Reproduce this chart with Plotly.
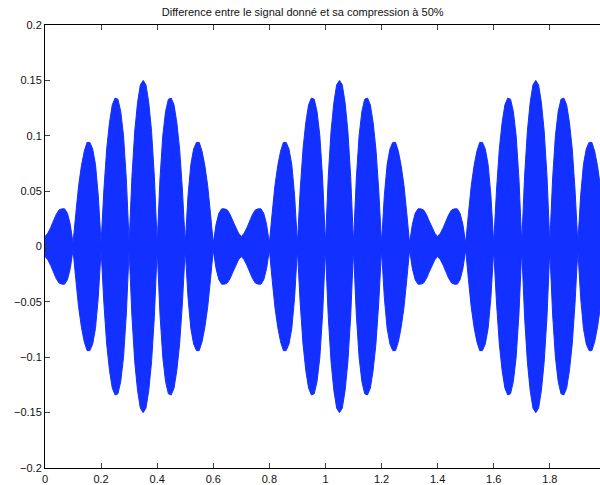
import plotly.graph_objects as go

# Time axis (s), sampled every 0.01 from 0 to 1.98
t = [round(i * 0.01, 2) for i in range(199)]

# Upper envelope of the difference signal
envelope = [
    # 0.00 - 0.69
    0.009, 0.012, 0.017, 0.023, 0.029, 0.033, 0.034, 0.034, 0.030, 0.020,
    0.003, 0.030, 0.055, 0.073, 0.086, 0.094, 0.094, 0.088, 0.074, 0.046,
    0.003, 0.051, 0.088, 0.112, 0.128, 0.134, 0.133, 0.122, 0.100, 0.061,
    0.003, 0.063, 0.104, 0.130, 0.146, 0.150, 0.146, 0.130, 0.104, 0.063,
    0.003, 0.061, 0.100, 0.122, 0.133, 0.134, 0.128, 0.112, 0.088, 0.051,
    0.003, 0.046, 0.074, 0.088, 0.094, 0.094, 0.086, 0.073, 0.055, 0.030,
    0.003, 0.020, 0.030, 0.034, 0.034, 0.033, 0.029, 0.023, 0.017, 0.012,
    # 0.70 - 1.39
    0.009, 0.012, 0.017, 0.023, 0.029, 0.033, 0.034, 0.034, 0.030, 0.020,
    0.003, 0.030, 0.055, 0.073, 0.086, 0.094, 0.094, 0.088, 0.074, 0.046,
    0.003, 0.051, 0.088, 0.112, 0.128, 0.134, 0.133, 0.122, 0.100, 0.061,
    0.003, 0.063, 0.104, 0.130, 0.146, 0.150, 0.146, 0.130, 0.104, 0.063,
    0.003, 0.061, 0.100, 0.122, 0.133, 0.134, 0.128, 0.112, 0.088, 0.051,
    0.003, 0.046, 0.074, 0.088, 0.094, 0.094, 0.086, 0.073, 0.055, 0.030,
    0.003, 0.020, 0.030, 0.034, 0.034, 0.033, 0.029, 0.023, 0.017, 0.012,
    # 1.40 - 1.98
    0.009, 0.012, 0.017, 0.023, 0.029, 0.033, 0.034, 0.034, 0.030, 0.020,
    0.003, 0.030, 0.055, 0.073, 0.086, 0.094, 0.094, 0.088, 0.074, 0.046,
    0.003, 0.051, 0.088, 0.112, 0.128, 0.134, 0.133, 0.122, 0.100, 0.061,
    0.003, 0.063, 0.104, 0.130, 0.146, 0.150, 0.146, 0.130, 0.104, 0.063,
    0.003, 0.061, 0.100, 0.122, 0.133, 0.134, 0.128, 0.112, 0.088, 0.051,
    0.003, 0.046, 0.074, 0.088, 0.094, 0.094, 0.086, 0.073, 0.055,
]

x_tickvals = [0, 0.2, 0.4, 0.6, 0.8, 1.0, 1.2, 1.4, 1.6, 1.8]
x_ticktext = ["0", "0.2", "0.4", "0.6", "0.8", "1", "1.2", "1.4", "1.6", "1.8"]
y_tickvals = [-0.2, -0.15, -0.1, -0.05, 0, 0.05, 0.1, 0.15, 0.2]
y_ticktext = ["\u22120.2", "\u22120.15", "\u22120.1", "\u22120.05", "0", "0.05", "0.1", "0.15", "0.2"]

title_text = "Difference entre le signal donné et sa compression à 50%"

BLUE = "rgb(18,48,255)"
lower = [-v for v in envelope]

fig = go.Figure()
fig.add_trace(go.Scatter(x=t, y=envelope, mode="lines",
                         line=dict(color=BLUE, width=1), hoverinfo="skip", showlegend=False))
fig.add_trace(go.Scatter(x=t, y=lower, mode="lines", fill="tonexty", fillcolor=BLUE,
                         line=dict(color=BLUE, width=1), hoverinfo="skip", showlegend=False))

FONT = "Liberation Sans, Arial, Helvetica, sans-serif"
axis_font = dict(family=FONT, size=11, color="#111")

fig.update_layout(
    width=600, height=485,
    margin=dict(l=45, r=0, t=25, b=17),
    paper_bgcolor="white", plot_bgcolor="white",
    title=dict(text=title_text, x=0.5045, xanchor="center", y=0.975, yanchor="middle",
               font=dict(family=FONT, size=11, color="#111")),
    xaxis=dict(range=[0, 1.979], tickvals=x_tickvals, ticktext=x_ticktext,
               ticks="inside", ticklen=5, tickwidth=1, tickcolor="#444",
               showline=True, linecolor="black", linewidth=1, mirror="ticks",
               showgrid=False, zeroline=False, tickfont=axis_font, ticklabelstandoff=1),
    yaxis=dict(range=[-0.2, 0.2], tickvals=y_tickvals, ticktext=y_ticktext,
               ticks="inside", ticklen=5, tickwidth=1, tickcolor="#444",
               showline=True, linecolor="black", linewidth=1, mirror=False,
               showgrid=False, zeroline=False, tickfont=axis_font),
    hovermode=False,
)

fig.write_html("out.html", config={"displayModeBar": False},
               post_script="document.body.style.margin='0px';document.body.style.overflow='hidden';")
